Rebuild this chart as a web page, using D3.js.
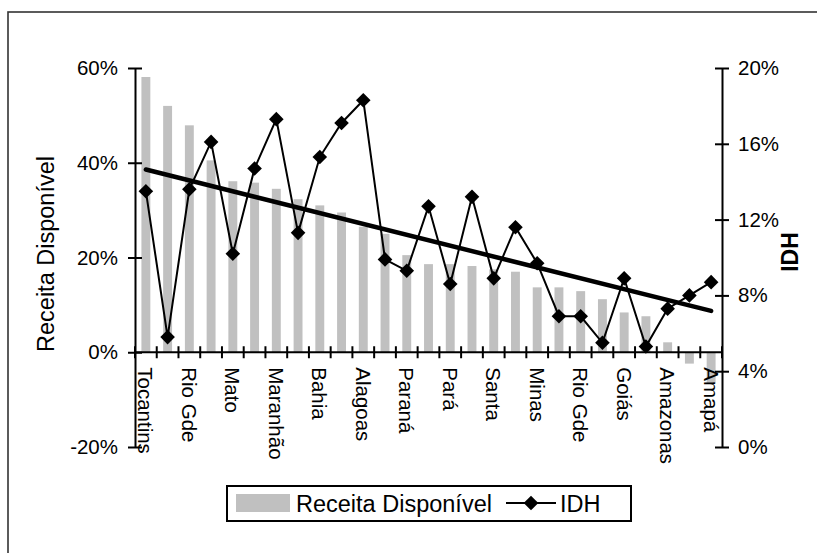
<!DOCTYPE html>
<html><head><meta charset="utf-8">
<script src="https://cdn.jsdelivr.net/npm/d3@7"></script>
<style>
html,body{margin:0;padding:0;background:#fff;}
text{font-family:"Liberation Sans",Arial,sans-serif;fill:#000;}
</style></head>
<body>
<svg id="chart" width="817" height="553"></svg>
<script>
// Categories (only every other label is shown on the axis)
const categories = ["Tocantins","","Rio Gde","","Mato","","Maranhão","","Bahia","","Alagoas","","Paraná","","Pará","","Santa","","Minas","","Rio Gde","","Goiás","","Amazonas","","Amapá"];
// Receita Disponível (%), left axis
const receita = [58.1,52.0,47.9,40.5,36.1,35.8,34.5,32.3,31.0,29.5,26.5,25.0,20.5,18.6,18.6,18.2,17.5,17.0,13.7,13.7,12.9,11.2,8.4,7.6,2.1,-2.4,-6.6];
// IDH (%), right axis
const idh = [13.5,5.8,13.6,16.1,10.2,14.7,17.3,11.3,15.3,17.1,18.3,9.9,9.3,12.7,8.6,13.2,8.9,11.6,9.7,6.9,6.9,5.5,8.9,5.3,7.3,8.0,8.7];
const leftTicks = [-20,0,20,40,60];
const rightTicks = [0,4,8,12,16,20];
const seriesNames = ["Receita Disponível","IDH"];
const axisTitles = {left:"Receita Disponível", right:"IDH"};

const svg = d3.select("#chart");
const X0 = 135, X1 = 722, YT = 68, YB = 447;

// outer frame
svg.append("rect").attr("x",8).attr("y",12).attr("width",830).attr("height",560)
  .attr("fill","none").attr("stroke","#333").attr("stroke-width",1.6);

const idx = d3.range(categories.length);
const x = d3.scaleBand().domain(idx).range([X0,X1]).padding(0);
const yL = d3.scaleLinear().domain([-20,60]).range([YB,YT]);
const yR = d3.scaleLinear().domain([0,20]).range([YB,YT]);
const bw = x.bandwidth()*0.41;

// bars
svg.append("g").selectAll("rect").data(receita).join("rect")
  .attr("x",(d,i)=>x(i)+x.bandwidth()/2-bw/2)
  .attr("y",d=>Math.min(yL(d),yL(0)))
  .attr("width",bw)
  .attr("height",d=>Math.abs(yL(d)-yL(0)))
  .attr("fill","#c0c0c0");

// left axis
const gL = svg.append("g").attr("transform",`translate(${X0},0)`)
  .call(d3.axisLeft(yL).tickValues(leftTicks).tickFormat(d=>d+"%").tickSizeInner(6).tickSizeOuter(0).tickPadding(11));
gL.select(".domain").attr("stroke","#000").attr("stroke-width",2);
gL.selectAll(".tick line").attr("stroke","#000").attr("stroke-width",2).attr("x2",-7).attr("x1",7);
gL.selectAll(".tick text").attr("font-size","20.5px").attr("font-family","Liberation Sans, Arial, sans-serif").attr("x",-17);

// right axis
const gR = svg.append("g").attr("transform",`translate(${X1},0)`)
  .call(d3.axisRight(yR).tickValues(rightTicks).tickFormat(d=>d+"%").tickSizeInner(7).tickSizeOuter(0).tickPadding(10));
gR.select(".domain").attr("stroke","#000").attr("stroke-width",2);
gR.selectAll(".tick line").attr("stroke","#000").attr("stroke-width",2).attr("x1",-7).attr("x2",7);
gR.selectAll(".tick text").attr("font-size","20.5px").attr("font-family","Liberation Sans, Arial, sans-serif").attr("x",16);

// category axis at 0%
const y0 = yL(0);
const gX = svg.append("g");
gX.append("line").attr("x1",X0).attr("x2",X1).attr("y1",y0).attr("y2",y0).attr("stroke","#000").attr("stroke-width",2);
const edges = d3.range(categories.length+1).map(i=> i<categories.length ? x(i) : X1);
gX.selectAll("line.tk").data(edges).join("line").attr("class","tk")
  .attr("x1",d=>d).attr("x2",d=>d).attr("y1",y0-6).attr("y2",y0+6)
  .attr("stroke","#000").attr("stroke-width",2);
gX.selectAll("text").data(idx.filter(i=>categories[i]!=="")).join("text")
  .attr("transform",i=>`translate(${x(i)+x.bandwidth()/2},${y0+15}) rotate(90)`)
  .attr("dominant-baseline","central")
  .attr("font-size","20.5px")
  .text(i=>categories[i]);

// trend line (least squares of IDH on category index)
const n = idh.length;
const mx = d3.mean(idx), my = d3.mean(idh);
const slope = d3.sum(idx,i=>(i-mx)*(idh[i]-my))/d3.sum(idx,i=>(i-mx)*(i-mx));
const icpt = my - slope*mx;
svg.append("line")
  .attr("x1",x(0)+x.bandwidth()/2).attr("y1",yR(icpt))
  .attr("x2",x(n-1)+x.bandwidth()/2).attr("y2",yR(icpt+slope*(n-1)))
  .attr("stroke","#000").attr("stroke-width",4.5).attr("stroke-linecap","round");

// IDH line + diamonds
const line = d3.line().x((d,i)=>x(i)+x.bandwidth()/2).y(d=>yR(d));
svg.append("path").datum(idh).attr("d",line).attr("fill","none").attr("stroke","#000").attr("stroke-width",2);
const diamond = "M0,-7.3L7.3,0L0,7.3L-7.3,0Z";
svg.append("g").selectAll("path").data(idh).join("path")
  .attr("transform",(d,i)=>`translate(${x(i)+x.bandwidth()/2},${yR(d)})`)
  .attr("d",diamond).attr("fill","#000");

// axis titles
svg.append("text").attr("transform","translate(46,254) rotate(-90)")
  .attr("text-anchor","middle").attr("dominant-baseline","central")
  .attr("font-size","23.5px").text(axisTitles.left);
svg.append("text").attr("transform","translate(790,252) rotate(-90)")
  .attr("text-anchor","middle").attr("dominant-baseline","central")
  .attr("font-size","23px").attr("font-weight","bold").text(axisTitles.right);

// legend
const lg = svg.append("g");
lg.append("rect").attr("x",227).attr("y",486).attr("width",404).attr("height",35)
  .attr("fill","#fff").attr("stroke","#000").attr("stroke-width",2);
lg.append("rect").attr("x",236).attr("y",494).attr("width",54).attr("height",18).attr("fill","#c0c0c0");
lg.append("text").attr("x",296).attr("y",512).attr("font-size","23.5px").text(seriesNames[0]);
lg.append("line").attr("x1",506).attr("x2",556).attr("y1",503).attr("y2",503).attr("stroke","#000").attr("stroke-width",2);
lg.append("path").attr("transform","translate(531,503)").attr("d",diamond).attr("fill","#000");
lg.append("text").attr("x",560).attr("y",512).attr("font-size","23.5px").text(seriesNames[1]);
</script>
</body></html>
